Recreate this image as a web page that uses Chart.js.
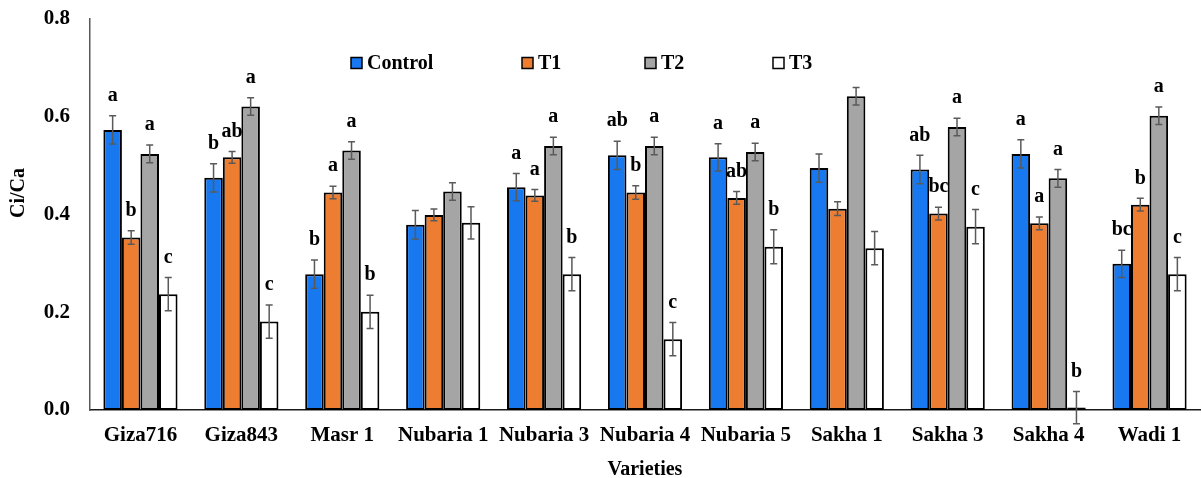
<!DOCTYPE html>
<html>
<head>
<meta charset="utf-8">
<script src="https://cdn.jsdelivr.net/npm/chart.js@4.4.1/dist/chart.umd.min.js"></script>
<style>
  html, body { margin: 0; padding: 0; background: #fff; }
  canvas { display: block; }
</style>
</head>
<body>
<canvas id="ciChart" width="1202" height="478"></canvas>
<script>
// Ci/Ca ratio per variety under four treatments
const varieties = ['Giza716', 'Giza843', 'Masr 1', 'Nubaria 1', 'Nubaria 3', 'Nubaria 4', 'Nubaria 5', 'Sakha 1', 'Sakha 3', 'Sakha 4', 'Wadi 1'];
const treatments = ['Control', 'T1', 'T2', 'T3'];

const control = [0.573, 0.475, 0.278, 0.379, 0.456, 0.521, 0.517, 0.495, 0.492, 0.524, 0.299];
const t1      = [0.353, 0.517, 0.445, 0.399, 0.439, 0.445, 0.434, 0.412, 0.402, 0.382, 0.420];
const t2      = [0.524, 0.621, 0.531, 0.447, 0.540, 0.540, 0.528, 0.642, 0.579, 0.474, 0.602];
const t3      = [0.237, 0.181, 0.201, 0.383, 0.278, 0.145, 0.334, 0.331, 0.375, 0.005, 0.278];

// standard errors
const controlErr = [0.029, 0.029, 0.029, 0.029, 0.028, 0.029, 0.028, 0.029, 0.029, 0.029, 0.028];
const t1Err      = [0.014, 0.012, 0.013, 0.012, 0.012, 0.014, 0.013, 0.014, 0.013, 0.013, 0.013];
const t2Err      = [0.018, 0.018, 0.018, 0.018, 0.018, 0.018, 0.018, 0.018, 0.018, 0.018, 0.018];
const t3Err      = [0.034, 0.034, 0.034, 0.033, 0.034, 0.034, 0.035, 0.034, 0.035, 0.033, 0.034];

// significance letters (blank = not shown)
const controlLetters = ['a', 'b', 'b', '', 'a', 'ab', 'a', '', 'ab', 'a', 'bc'];
const t1Letters      = ['b', 'ab', 'a', '', 'a', 'b', 'ab', '', 'bc', 'a', 'b'];
const t2Letters      = ['a', 'a', 'a', '', 'a', 'a', 'a', '', 'a', 'a', 'a'];
const t3Letters      = ['c', 'c', 'b', '', 'b', 'c', 'b', '', 'c', 'b', 'c'];

const yTicks = [0, 0.2, 0.4, 0.6, 0.8];

const seriesValues = [control, t1, t2, t3];
const seriesErrors = [controlErr, t1Err, t2Err, t3Err];
const seriesLetters = [controlLetters, t1Letters, t2Letters, t3Letters];
const seriesColors = ['#1778EF', '#ED7D31', '#A5A5A5', '#FFFFFF'];

const SERIF = '"Liberation Serif", "Times New Roman", serif';

// error bars + letters drawn on top of the bars
const errorBarPlugin = {
    id: 'errorBars',
    afterDatasetsDraw(chart) {
        const ctx = chart.ctx;
        const yScale = chart.scales.y;
        ctx.save();
        chart.data.datasets.forEach((ds, i) => {
            const meta = chart.getDatasetMeta(i);
            meta.data.forEach((bar, j) => {
                const v = seriesValues[i][j];
                const e = seriesErrors[i][j];
                const top = yScale.getPixelForValue(v + e);
                const bottom = yScale.getPixelForValue(v - e);
                const x = bar.x;

                ctx.strokeStyle = '#5a5a5a';
                ctx.lineWidth = 1.5;
                ctx.beginPath();
                ctx.moveTo(x, top); ctx.lineTo(x, bottom);
                ctx.moveTo(x - 3.5, top); ctx.lineTo(x + 3.5, top);
                ctx.moveTo(x - 3.5, bottom); ctx.lineTo(x + 3.5, bottom);
                ctx.stroke();

                const letter = seriesLetters[i][j];
                if (letter) {
                    ctx.fillStyle = '#000';
                    ctx.font = 'bold 20px ' + SERIF;
                    ctx.textAlign = 'center';
                    ctx.textBaseline = 'middle';
                    ctx.fillText(letter, x, top - 20);
                }
            });
        });
        ctx.restore();
    }
};

// legend row inside the plot and the rotated y title
const legendXs = [351, 522, 645, 773];
const decorPlugin = {
    id: 'decor',
    afterDraw(chart) {
        const ctx = chart.ctx;
        ctx.save();
        ctx.font = 'bold 20px ' + SERIF;
        ctx.textBaseline = 'middle';
        ctx.textAlign = 'left';
        chart.data.datasets.forEach((ds, i) => {
            const x = legendXs[i];
            const y = 63;
            ctx.fillStyle = ds.backgroundColor;
            ctx.fillRect(x, y - 5.5, 11, 11);
            ctx.strokeStyle = '#000';
            ctx.lineWidth = 1.5;
            ctx.strokeRect(x, y - 5.5, 11, 11);
            ctx.fillStyle = '#000';
            ctx.fillText(ds.label, x + 16, y + 1);
        });

        ctx.translate(19, 193);
        ctx.rotate(-Math.PI / 2);
        ctx.textAlign = 'center';
        ctx.fillText('Ci/Ca', 0, 0);
        ctx.restore();
    }
};

new Chart(document.getElementById('ciChart'), {
    type: 'bar',
    data: {
        labels: varieties,
        datasets: treatments.map((name, i) => ({
            label: name,
            data: seriesValues[i],
            backgroundColor: seriesColors[i],
            borderColor: '#000',
            borderWidth: 2,
            borderSkipped: false,
            barPercentage: 1.0,
            categoryPercentage: 0.735
        }))
    },
    options: {
        responsive: false,
        animation: false,
        layout: { padding: { top: 19, right: 2, left: 0, bottom: 0 } },
        plugins: {
            legend: { display: false },
            tooltip: { enabled: false }
        },
        scales: {
            x: {
                grid: { display: false },
                border: { color: '#1a1a1a', width: 1.5 },
                ticks: {
                    color: '#000',
                    font: { family: SERIF, size: 21, weight: 'bold' },
                    padding: 5,
                    autoSkip: false,
                    maxRotation: 0
                },
                title: {
                    display: true,
                    text: 'Varieties',
                    color: '#000',
                    font: { family: SERIF, size: 20, weight: 'bold' },
                    padding: { top: 0, bottom: -4 }
                },
                afterFit: (s) => { s.height = 68; }
            },
            y: {
                min: yTicks[0],
                max: yTicks[yTicks.length - 1],
                grid: { display: false },
                border: { color: '#595959', width: 1.5 },
                afterBuildTicks: (s) => { s.ticks = yTicks.map(v => ({ value: v })); },
                ticks: {
                    color: '#000',
                    font: { family: SERIF, size: 21, weight: 'bold' },
                    padding: 12,
                    callback: (v) => Number(v).toFixed(1)
                },
                afterFit: (s) => {
                    s.width = 90;
                    // label overhang is already covered by the layout padding
                    s.paddingTop = 0;
                    s.paddingBottom = 0;
                }
            }
        }
    },
    plugins: [errorBarPlugin, decorPlugin]
});
</script>
</body>
</html>
